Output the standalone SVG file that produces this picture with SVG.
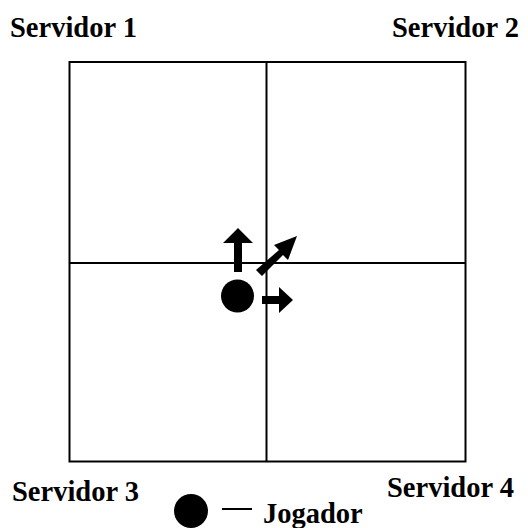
<svg xmlns="http://www.w3.org/2000/svg" width="528" height="528" viewBox="0 0 528 528">
<style>
.lbl{font-family:'Liberation Serif','Times New Roman',serif;font-weight:700;font-size:28.5px;fill:#000}
.grid{fill:none;stroke:#000;stroke-width:2}
</style>
<rect width="528" height="528" fill="#fff"/>
<g id="grid">
<rect class="grid" x="69.5" y="62" width="396" height="399.5"/>
<line class="grid" x1="266.5" y1="62" x2="266.5" y2="461.5"/>
<line class="grid" x1="69.5" y1="263" x2="465.5" y2="263"/>
</g>
<g id="servidor1"><text class="lbl" x="10" y="37">Servidor 1</text></g>
<g id="servidor2"><text class="lbl" x="392" y="37">Servidor 2</text></g>
<g id="servidor3"><text class="lbl" x="12" y="501">Servidor 3</text></g>
<g id="servidor4"><text class="lbl" x="387" y="497">Servidor 4</text></g>
<g id="jogador">
<circle cx="237.5" cy="296" r="16.5" fill="#000"/>
</g>
<g id="connectors" fill="#000">
<polygon points="234,272 242,272 242,243 253,243 238,228 223,243 234,243"/>
<polygon points="262,296 279,296 279,287 293,300 279,313 279,304 262,304"/>
<polygon points="256,270 262,276 283,255 288,260 297,236 274,245 279,250"/>
</g>
<g id="legend">
<circle cx="191" cy="511" r="17" fill="#000"/>
<line x1="222" y1="509" x2="252" y2="509" stroke="#000" stroke-width="2"/>
<text class="lbl" x="263" y="523">Jogador</text>
</g>
</svg>
